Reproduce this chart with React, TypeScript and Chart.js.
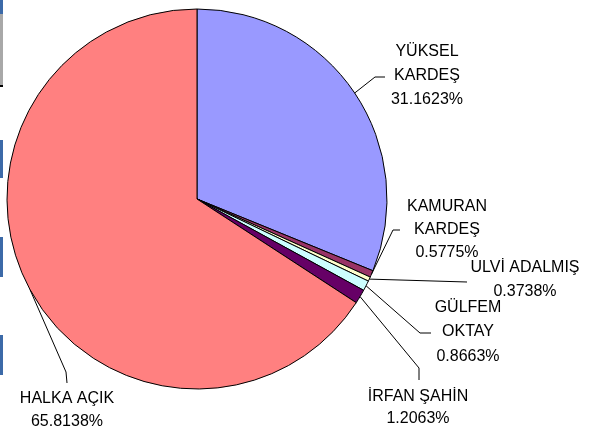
import React, { useEffect, useRef } from "react";
import { Chart, registerables } from "chart.js";

Chart.register(...registerables);

const categories = [
  "YÜKSEL KARDEŞ",
  "KAMURAN KARDEŞ",
  "ULVİ ADALMIŞ",
  "GÜLFEM OKTAY",
  "İRFAN ŞAHİN",
  "HALKA AÇIK",
];
const shares = [31.1623, 0.5775, 0.3738, 0.8663, 1.2063, 65.8138];
const nameLines = [
  ["YÜKSEL", "KARDEŞ"],
  ["KAMURAN", "KARDEŞ"],
  ["ULVİ ADALMIŞ"],
  ["GÜLFEM", "OKTAY"],
  ["İRFAN ŞAHİN"],
  ["HALKA AÇIK"],
];
const sliceColors = ["#9999FF", "#993366", "#FFFFCC", "#CCFFFF", "#660066", "#FF8080"];

// annotation layout: label centre x, line centres y, leader path after the arc edge
const labelLayout = [
  { cx: 427, ys: [52, 76, 100], path: [[375, 77], [385, 77]] },
  { cx: 447, ys: [207, 230, 253], path: [[393, 230], [400, 230]] },
  { cx: 525, ys: [268, 292], path: [[467, 282]] },
  { cx: 468, ys: [308, 332, 357], path: [[420, 333], [431, 333]] },
  { cx: 418, ys: [397, 419], path: [[419, 368], [419, 380]] },
  { cx: 67, ys: [399, 422], path: [[66, 372], [67, 383]] },
];

const FONT = "16px 'Liberation Sans', Arial, sans-serif";

const labelPlugin = {
  id: "pieLabels",
  afterDatasetsDraw(chart: any) {
    const ctx = chart.ctx;
    const meta = chart.getDatasetMeta(0);
    ctx.save();
    meta.data.forEach((arc: any, i: number) => {
      const p = arc.getProps(["x", "y", "startAngle", "endAngle", "outerRadius"], true);
      const mid = (p.startAngle + p.endAngle) / 2;
      const ex = p.x + Math.cos(mid) * p.outerRadius;
      const ey = p.y + Math.sin(mid) * p.outerRadius;
      const lay = labelLayout[i];
      ctx.beginPath();
      ctx.strokeStyle = "#000";
      ctx.lineWidth = 1;
      ctx.moveTo(ex, ey);
      lay.path.forEach(([x, y]) => ctx.lineTo(x, y));
      ctx.stroke();
      const lines = [...nameLines[i], shares[i].toFixed(4) + "%"];
      ctx.fillStyle = "#000";
      ctx.font = FONT;
      ctx.textAlign = "center";
      ctx.textBaseline = "middle";
      lines.forEach((t, k) => ctx.fillText(t, lay.cx, lay.ys[k]));
    });
    ctx.restore();
  },
};

export default function App() {
  const ref = useRef<HTMLCanvasElement | null>(null);
  useEffect(() => {
    if (!ref.current) return;
    const chart = new Chart(ref.current, {
      type: "pie",
      data: {
        labels: categories,
        datasets: [
          {
            data: shares,
            backgroundColor: sliceColors,
            borderColor: "#000",
            borderWidth: 1,
            hoverOffset: 0,
          },
        ],
      },
      options: {
        responsive: false,
        animation: false,
        radius: 190,
        layout: { padding: { left: 0, top: 0, right: 201, bottom: 32 } },
        plugins: {
          legend: { display: false },
          tooltip: { enabled: false },
        },
        events: [],
      },
      plugins: [labelPlugin],
    });
    return () => chart.destroy();
  }, []);

  const bar = (top: number, h: number, color: string) => (
    <div style={{ position: "absolute", left: 0, top, width: 3, height: h, background: color }} />
  );

  return (
    <div style={{ position: "fixed", left: 0, top: 0, width: 595, height: 430, background: "#fff" }}>
      <canvas ref={ref} width={595} height={430} style={{ position: "absolute", left: 0, top: 0 }} />
      {bar(0, 14, "#3c6aa8")}
      {bar(14, 72, "#a8a8a8")}
      {bar(85, 2, "#000")}
      {bar(140, 38, "#3c6aa8")}
      {bar(237, 40, "#3c6aa8")}
      {bar(335, 40, "#3c6aa8")}
    </div>
  );
}
